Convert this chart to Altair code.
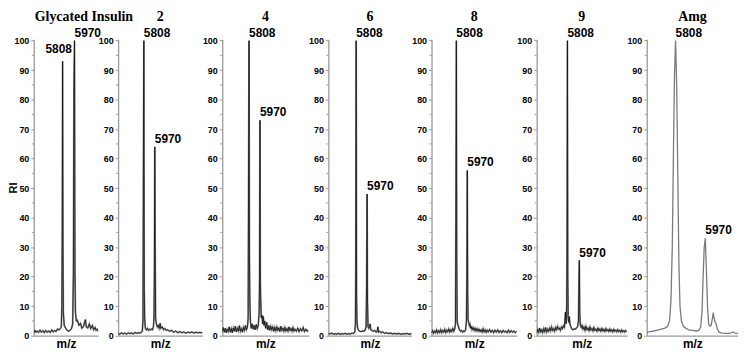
import altair as alt
import pandas as pd

# ---------------- data ----------------
titles = ["Glycated Insulin", "2", "4", "6", "8", "9", "Amg"]
peak_labels = ["5808", "5970"]
peak_mz = [5808, 5970]
peak_ri = [[93, 100], [100, 64], [100, 73], [100, 48], [100, 56], [100, 25.5], [100, 33]]
x_min = [5416, 5426, 5411, 5396, 5440, 5389, 5651]
x_max = [6293, 6676, 6690, 6631, 6704, 6618, 6148]
y_ticks = [0, 10, 20, 30, 40, 50, 60, 70, 80, 90, 100]
y_minor = [5, 15, 25, 35, 45, 55, 65, 75, 85, 95]

mz_1 = [5416, 5430, 5445, 5460, 5480, 5500, 5520, 5540, 5560, 5580, 5600, 5620, 5640, 5660,
        5680, 5700, 5720, 5740, 5760, 5780, 5790, 5798, 5803, 5808, 5813, 5818, 5830, 5850, 5870, 5890,
        5910, 5930, 5945, 5955, 5962, 5970, 5976, 5982, 5995, 6010, 6030, 6051, 6070, 6090, 6118, 6130,
        6150, 6172, 6190, 6213, 6230, 6250, 6265, 6280, 6293]
ri_1 = [1.0, 1.8, 1.2, 1.6, 1.1, 1.9, 1.2, 1.7, 1.0, 1.8, 1.2, 1.6, 1.1, 2.0,
        1.3, 1.7, 1.5, 2.3, 2.0, 2.5, 3.0, 10, 35, 93, 30, 8, 3.5, 2.5, 1.8, 1.5,
        1.8, 2.5, 4, 22, 84, 100, 22, 8, 5, 5.2, 3.5, 4.2, 2.5, 3.0, 5.5, 3.0,
        2.6, 4.0, 2.4, 3.5, 2.0, 2.8, 1.8, 2.2, 1.5]

mz_2 = [5426, 5450, 5475, 5500, 5525, 5550, 5575, 5600, 5625, 5650, 5675, 5700, 5725, 5750, 5770, 5785,
        5795, 5801, 5808, 5814, 5820, 5830, 5845, 5860, 5875, 5890, 5905, 5920, 5935, 5950, 5958, 5964,
        5970, 5976, 5982, 5990, 6005, 6020, 6035, 6050, 6060, 6080, 6100, 6120, 6140, 6160, 6190, 6220,
        6250, 6280, 6310, 6340, 6370, 6400, 6430, 6460, 6490, 6520, 6550, 6580, 6610, 6640, 6676]
ri_2 = [0.8, 0.5, 1.0, 0.6, 0.9, 0.5, 1.0, 0.7, 0.9, 0.6, 1.1, 0.8, 1.0, 0.9, 1.2, 1.5,
        5, 55, 100, 16, 6, 2.5, 2.0, 2.5, 1.8, 2.2, 1.9, 2.3, 2.0, 3.0, 6, 22,
        64, 30, 6, 4.5, 3.0, 3.5, 2.5, 4.2, 2.5, 3.0, 2.0, 2.5, 1.8, 2.0, 1.5, 1.8,
        1.2, 1.6, 1.0, 1.4, 1.0, 1.3, 0.9, 1.2, 1.0, 1.3, 0.9, 1.2, 1.0, 1.1, 1.0]

mz_3 = [5411, 5425, 5440, 5455, 5470, 5485, 5500, 5515, 5530, 5545, 5560, 5575, 5590, 5605, 5620, 5635,
        5650, 5665, 5680, 5695, 5710, 5725, 5740, 5755, 5770, 5785, 5795, 5801, 5808, 5814, 5820, 5828,
        5840, 5855, 5870, 5885, 5900, 5915, 5930, 5945, 5958, 5964, 5970, 5976, 5982, 5990, 6000, 6010,
        6020, 6030, 6040, 6055, 6070, 6085, 6100, 6115, 6130, 6145, 6160, 6175, 6190, 6205, 6220, 6235,
        6250, 6265, 6280, 6295, 6310, 6325, 6340, 6355, 6370, 6385, 6400, 6415, 6430, 6445, 6460, 6475,
        6490, 6510, 6530, 6550, 6570, 6590, 6610, 6630, 6650, 6670, 6690]
ri_3 = [1.5, 2.8, 1.2, 2.5, 1.0, 2.2, 1.4, 3.0, 1.2, 2.4, 1.0, 2.6, 1.5, 3.2, 1.3, 2.5,
        1.6, 3.4, 1.5, 2.4, 1.2, 2.8, 1.8, 3.5, 2.0, 3.0, 6, 50, 100, 28, 12, 5,
        2.5, 4.0, 2.2, 3.5, 2.0, 3.8, 2.4, 3.5, 8, 20, 73, 18, 12, 6, 7, 4,
        6.5, 3.5, 5.0, 2.5, 4.5, 2.0, 3.5, 1.8, 3.2, 2.0, 3.0, 1.5, 2.8, 1.6, 3.0, 1.8,
        2.6, 1.4, 3.2, 1.8, 2.5, 1.5, 2.8, 1.6, 2.4, 1.5, 3.0, 1.8, 2.4, 1.5, 2.8, 1.6,
        2.2, 1.5, 2.6, 1.4, 2.4, 1.6, 2.8, 1.4, 2.2, 1.5, 2.0]

mz_4 = [5396, 5420, 5445, 5470, 5495, 5520, 5545, 5570, 5595, 5620, 5645, 5670, 5695, 5720, 5745, 5770,
        5788, 5797, 5802, 5808, 5814, 5820, 5830, 5845, 5860, 5880, 5900, 5920, 5940, 5955, 5963, 5970,
        5976, 5984, 5995, 6005, 6014, 6025, 6045, 6065, 6085, 6105, 6120, 6131, 6140, 6160, 6180, 6200,
        6230, 6260, 6290, 6320, 6350, 6380, 6410, 6440, 6470, 6500, 6530, 6560, 6590, 6631]
ri_4 = [0.8, 0.6, 0.9, 0.5, 0.7, 0.5, 0.8, 0.5, 0.7, 0.6, 0.8, 0.5, 0.7, 0.6, 0.9, 0.8,
        1.2, 4, 22, 100, 14, 5, 2.5, 1.8, 1.5, 1.4, 1.6, 1.5, 1.8, 3, 17, 48,
        12, 3, 2.5, 3, 4, 2, 1.8, 1.5, 1.8, 1.2, 1.6, 3, 1.2, 1.5, 1.0, 1.3,
        0.8, 1.0, 0.7, 0.9, 0.6, 0.8, 0.6, 0.8, 0.5, 0.7, 0.6, 0.8, 0.5, 0.7]

mz_5 = [5440, 5455, 5470, 5485, 5500, 5515, 5530, 5545, 5560, 5575, 5590, 5605, 5620, 5635, 5650, 5665,
        5680, 5695, 5710, 5725, 5740, 5755, 5770, 5785, 5795, 5801, 5808, 5814, 5820, 5828, 5840, 5855,
        5870, 5885, 5900, 5915, 5930, 5945, 5957, 5964, 5970, 5976, 5982, 5990, 6000, 6010, 6020, 6030,
        6040, 6055, 6070, 6085, 6100, 6115, 6130, 6145, 6160, 6175, 6190, 6205, 6220, 6235, 6250, 6265,
        6280, 6300, 6320, 6340, 6360, 6380, 6400, 6420, 6440, 6460, 6480, 6500, 6520, 6540, 6560, 6580,
        6600, 6620, 6640, 6660, 6680, 6704]
ri_5 = [1.0, 1.8, 0.8, 1.6, 1.0, 2.0, 0.9, 1.7, 1.1, 2.1, 1.0, 1.8, 1.2, 2.2, 1.0, 1.9,
        1.3, 2.3, 1.2, 2.0, 1.4, 2.5, 1.5, 2.4, 4, 40, 100, 25, 5, 4, 3, 2,
        1.5, 1.8, 1.2, 1.6, 1.4, 2.0, 5, 20, 56, 14, 5.5, 4.5, 3.5, 4, 2.5, 3.2,
        2.0, 2.8, 1.8, 2.6, 1.6, 2.4, 1.5, 2.2, 1.4, 2.0, 1.2, 2.4, 1.3, 2.0, 1.1, 1.9,
        1.3, 2.1, 1.2, 1.8, 1.0, 1.9, 1.2, 2.0, 1.1, 1.7, 1.0, 1.8, 1.2, 1.6, 1.0, 1.9,
        1.1, 1.7, 1.2, 1.6, 1.0, 1.5]

mz_6 = [5389, 5402, 5416, 5430, 5443, 5457, 5470, 5484, 5497, 5511, 5524, 5538, 5551, 5565, 5578, 5592,
        5605, 5619, 5632, 5646, 5659, 5673, 5686, 5700, 5713, 5727, 5740, 5754, 5767, 5781, 5790, 5798,
        5803, 5808, 5813, 5818, 5826, 5834, 5842, 5855, 5870, 5885, 5900, 5915, 5930, 5945, 5958, 5964,
        5970, 5976, 5984, 5995, 6008, 6020, 6034, 6047, 6061, 6074, 6088, 6101, 6115, 6128, 6142, 6155,
        6169, 6182, 6196, 6209, 6223, 6236, 6250, 6263, 6277, 6290, 6304, 6317, 6331, 6344, 6358, 6371,
        6385, 6398, 6412, 6425, 6439, 6452, 6466, 6479, 6493, 6506, 6520, 6533, 6547, 6560, 6574, 6587,
        6600, 6618]
ri_6 = [1.0, 2.2, 1.1, 2.6, 1.3, 2.0, 1.0, 2.4, 1.4, 2.8, 1.2, 2.2, 1.5, 2.6, 1.6, 3.0,
        1.8, 2.4, 1.5, 2.8, 2.0, 3.2, 2.2, 2.6, 1.8, 3.0, 2.4, 3.4, 2.8, 8, 4, 10,
        33, 100, 20, 6, 4.5, 6.5, 4, 3, 2.2, 2.0, 2.4, 2.2, 2.6, 3.0, 5, 17,
        25.5, 8, 3.5, 2.8, 3.5, 2.2, 3.0, 1.8, 3.2, 2.0, 2.6, 1.7, 3.0, 1.9, 2.4, 1.6,
        2.8, 1.8, 2.2, 1.5, 2.6, 1.7, 2.3, 1.5, 2.5, 1.6, 2.2, 1.4, 2.4, 1.6, 2.1, 1.4,
        2.3, 1.5, 2.0, 1.3, 2.2, 1.5, 1.9, 1.3, 2.1, 1.4, 1.8, 1.2, 2.0, 1.3, 1.7, 1.2,
        1.8, 1.3]

mz_7 = [5651, 5670, 5690, 5710, 5730, 5750, 5765, 5775, 5783, 5790, 5796, 5802, 5808, 5814, 5820, 5826,
        5832, 5840, 5850, 5865, 5880, 5900, 5920, 5935, 5945, 5952, 5958, 5964, 5970, 5976, 5982, 5988,
        5995, 6002, 6008, 6013, 6018, 6024, 6029, 6036, 6045, 6060, 6080, 6100, 6112, 6120, 6128, 6137,
        6148]
ri_7 = [1.2, 1.4, 1.6, 1.9, 2.2, 2.6, 3.2, 5, 12, 30, 60, 88, 100, 85, 55, 25,
        10, 5, 3.2, 2.5, 2.0, 1.8, 1.6, 1.8, 3, 8, 20, 30, 33, 22, 10, 4,
        3.2, 3.6, 5.5, 7.8, 6, 4.5, 4, 2.2, 1.2, 0.9, 0.8, 0.8, 1.0, 1.3, 1.0, 0.9,
        0.8]

spectra_mz = [mz_1, mz_2, mz_3, mz_4, mz_5, mz_6, mz_7]
spectra_ri = [ri_1, ri_2, ri_3, ri_4, ri_5, ri_6, ri_7]

# ---------------- layout / style ----------------
panel_widths = [65, 85, 87, 84, 86, 91, 92]
panel_height = 299
SANS = "Liberation Sans"
SERIF = "Liberation Serif"
AXIS_GRAY = "#9a9a9a"

panels = []
for i in range(7):
    spec = pd.DataFrame({"mz": spectra_mz[i], "ri": spectra_ri[i]})
    labels = pd.DataFrame({"mz": peak_mz, "ri": peak_ri[i], "label": peak_labels})
    minor = pd.DataFrame({"ri": y_minor})

    xscale = alt.Scale(domain=[x_min[i], x_max[i]], nice=False, zero=False)
    yscale = alt.Scale(domain=[0, 100.5], nice=False)

    x_axis = alt.Axis(title="m/z", labels=False, ticks=False, grid=False,
                      domainColor=AXIS_GRAY, domainWidth=1.3,
                      titleFont=SANS, titleFontSize=12, titleFontWeight="bold",
                      titleColor="black", titlePadding=3)
    y_axis = alt.Axis(values=y_ticks, title="RI" if i == 0 else "", grid=False,
                      domainColor=AXIS_GRAY, domainWidth=1.3, tickColor=AXIS_GRAY,
                      tickSize=3, labelPadding=2, labelFont=SANS, labelFontSize=9,
                      labelFontWeight="bold", labelColor="black",
                      titleFont=SANS, titleFontSize=11, titleFontWeight="bold",
                      titleColor="black", titleX=-20, titleBaseline="middle")

    def X():
        return alt.X("mz:Q", scale=xscale, axis=x_axis)

    def Y():
        return alt.Y("ri:Q", scale=yscale, axis=y_axis)

    if i == 6:
        layers = [alt.Chart(spec).mark_line(color="#7a7a7a", strokeWidth=1.3, clip=True).encode(x=X(), y=Y())]
    else:
        layers = [
            alt.Chart(spec).mark_line(color="#8f8f8f", strokeWidth=1.8, clip=True).encode(x=X(), y=Y()),
            alt.Chart(spec).mark_line(color="#111111", strokeWidth=0.8, clip=True).encode(x=X(), y=Y()),
        ]

    minor_ticks = alt.Chart(minor).mark_rule(color=AXIS_GRAY, strokeWidth=1).encode(
        y=Y(), x=alt.value(0), x2=alt.value(-2),
    )
    layers.append(minor_ticks)

    text_style = dict(baseline="bottom", font=SANS, fontSize=12, fontWeight="bold", color="black")
    if i == 0:
        layers.append(alt.Chart(labels.iloc[[0]]).mark_text(align="center", dx=-4, dy=-5, **text_style)
                      .encode(x=X(), y=Y(), text="label:N"))
        layers.append(alt.Chart(labels.iloc[[1]]).mark_text(align="left", dx=0, dy=-1, **text_style)
                      .encode(x=X(), y=Y(), text="label:N"))
    else:
        layers.append(alt.Chart(labels).mark_text(align="left", dx=0, dy=-1, **text_style)
                      .encode(x=X(), y=Y(), text="label:N"))

    if i == 0:
        title = alt.TitleParams(titles[i], font=SERIF, fontSize=14, fontWeight="bold",
                                color="black", anchor="start", dx=1, offset=3, frame="group")
    else:
        title = alt.TitleParams(titles[i], font=SERIF, fontSize=14, fontWeight="bold",
                                color="black", anchor="middle", offset=3, frame="group")

    panel = alt.layer(*layers).properties(width=panel_widths[i], height=panel_height, title=title)
    panels.append(panel)

chart = alt.hconcat(*panels, spacing=20, bounds="flush").properties(
    padding=0, background="white"
).configure_view(stroke=None)

chart.save("out.html", embed_options={"renderer": "svg", "actions": False})
